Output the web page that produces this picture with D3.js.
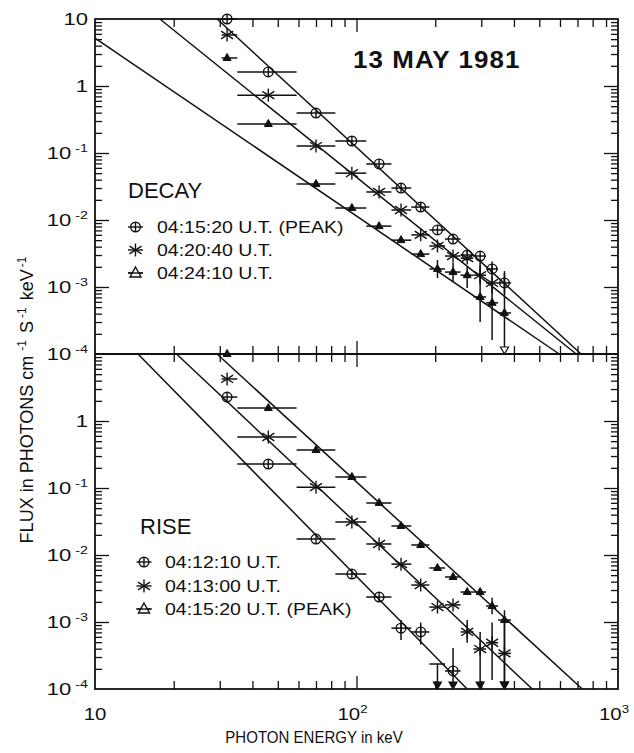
<!DOCTYPE html>
<html>
<head>
<meta charset="utf-8">
<script src="https://cdn.jsdelivr.net/npm/d3@7"></script>
<style>
  body { margin: 0; background: #fff; }
  svg text { font-family: "Liberation Sans", Arial, Helvetica, sans-serif; fill: #111; }
</style>
</head>
<body>
<svg id="chart" width="634" height="753"></svg>
<script>
// energy bins (keV) shared by all spectra
const binLo  = [30.5, 35, 59, 83, 109, 136, 162, 190, 218, 250, 280, 313, 348];
const binMid = [32, 46, 70, 96, 122, 148, 176, 204, 234, 265, 297, 330, 368];
const binHi  = [35, 59, 83, 109, 136, 162, 190, 218, 250, 280, 313, 348, 390];

// DECAY panel
const decayPeak = [
  { bin: 0, flux: 10 }, { bin: 1, flux: 1.62 }, { bin: 2, flux: 0.395 }, { bin: 3, flux: 0.151 },
  { bin: 4, flux: 0.0686 }, { bin: 5, flux: 0.030 }, { bin: 6, flux: 0.0156 }, { bin: 7, flux: 0.0071 },
  { bin: 8, flux: 0.0052 }, { bin: 9, flux: 0.0030 }, { bin: 10, flux: 0.0029 },
  { bin: 11, flux: 0.00186, lo: 0.0015, hi: 0.0024 }, { bin: 12, flux: 0.00115, lo: 0.0008, hi: 0.0016 }
];
const decayMid = [
  { bin: 0, flux: 5.77 }, { bin: 1, flux: 0.73 }, { bin: 2, flux: 0.127 }, { bin: 3, flux: 0.050 },
  { bin: 4, flux: 0.0262 }, { bin: 5, flux: 0.0141 }, { bin: 6, flux: 0.0060 }, { bin: 7, flux: 0.0041 },
  { bin: 8, flux: 0.0029 }, { bin: 9, flux: 0.0027 },
  { bin: 10, flux: 0.0015, lo: 0.0011, hi: 0.0021 }, { bin: 11, flux: 0.00115, lo: 0.0008, hi: 0.0017 }
];
const decayLate = [
  { bin: 0, flux: 2.62 }, { bin: 1, flux: 0.271 }, { bin: 2, flux: 0.0344 }, { bin: 3, flux: 0.0151 },
  { bin: 4, flux: 0.0081 }, { bin: 5, flux: 0.0050 }, { bin: 6, flux: 0.0031 },
  { bin: 7, flux: 0.00186, lo: 0.00136, hi: 0.00253 }, { bin: 8, flux: 0.00167, lo: 0.00118, hi: 0.0023 },
  { bin: 9, flux: 0.0015, lo: 0.00097, hi: 0.0020 }, { bin: 10, flux: 0.00071, lo: 0.0003, hi: 0.00253 },
  { bin: 11, flux: 0.00058, lo: 0.000162, hi: 0.00115 }, { bin: 12, flux: 0.00041, hi: 0.00173, down: true }
];

// RISE panel
const riseEarly = [
  { bin: 0, flux: 2.28 }, { bin: 1, flux: 0.228 }, { bin: 2, flux: 0.0173 }, { bin: 3, flux: 0.0052 },
  { bin: 4, flux: 0.00236 }, { bin: 5, flux: 0.00081, lo: 0.00054, hi: 0.00107 },
  { bin: 6, flux: 0.00071, lo: 0.00046, hi: 0.00098 }, { bin: 7, flux: 0.000236, limit: true },
  { bin: 8, flux: 0.000186, hi: 0.00041, down: true }
];
const riseMid = [
  { bin: 0, flux: 4.24 }, { bin: 1, flux: 0.577 }, { bin: 2, flux: 0.103 }, { bin: 3, flux: 0.0311 },
  { bin: 4, flux: 0.0146 }, { bin: 5, flux: 0.0073 }, { bin: 6, flux: 0.00356 }, { bin: 7, flux: 0.00167 },
  { bin: 8, flux: 0.0018 }, { bin: 9, flux: 0.00071, lo: 0.00049, hi: 0.00107 },
  { bin: 10, flux: 0.000395, hi: 0.00071, down: true }, { bin: 11, flux: 0.00049, lo: 0.000136, hi: 0.00098 },
  { bin: 12, flux: 0.00034, hi: 0.00119, down: true }
];
const riseLate = [
  { bin: 0, flux: 10 }, { bin: 1, flux: 1.56 }, { bin: 2, flux: 0.369 }, { bin: 3, flux: 0.146 },
  { bin: 4, flux: 0.0597 }, { bin: 5, flux: 0.0271 }, { bin: 6, flux: 0.0141 }, { bin: 7, flux: 0.0064 },
  { bin: 8, flux: 0.0047 }, { bin: 9, flux: 0.0028 }, { bin: 10, flux: 0.0028 },
  { bin: 11, flux: 0.00173, lo: 0.0013, hi: 0.0023 }, { bin: 12, flux: 0.00107, hi: 0.0015, down: true }
];

// power-law fits: [energy, flux] end points
const decayFits = [
  [[29.3, 10], [722, 1e-4]],
  [[17.7, 10], [692, 1e-4]],
  [[10, 5.2], [596, 1e-4]]
];
const riseFits = [
  [[14.6, 10], [265, 1e-4]],
  [[20.5, 10], [470, 1e-4]],
  [[29.3, 10], [730, 1e-4]]
];

const decayLabels = ['04:15:20 U.T. (PEAK)', '04:20:40 U.T.', '04:24:10 U.T.'];
const riseLabels = ['04:12:10 U.T.', '04:13:00 U.T.', '04:15:20 U.T. (PEAK)'];
const decayTicks = [10, 1, 1e-1, 1e-2, 1e-3, 1e-4];
const riseTicks = [1, 1e-1, 1e-2, 1e-3, 1e-4];
const energyTicks = [10, 100, 1000];

const svg = d3.select('#chart');
const plotLeft = 95, plotRight = 618, plotTop = 19, plotMid = 354, plotBottom = 689;
const ink = '#111';

const x = d3.scaleLog().domain([10, 1000]).range([plotLeft, plotRight]);
const yDecay = d3.scaleLog().domain([1e-4, 10]).range([plotMid, plotTop]);
const yRise = d3.scaleLog().domain([1e-4, 10]).range([plotBottom, plotMid]);

const isDecade = v => Math.abs(Math.log10(v) - Math.round(Math.log10(v))) < 1e-6;

// axes: inward ticks on every side
function axis(fn, scale, tx, ty, values, size) {
  svg.append('g')
    .attr('transform', `translate(${tx},${ty})`)
    .call(fn(scale).tickValues(values).tickSize(size).tickFormat(''))
    .call(g => g.select('.domain').remove())
    .call(g => g.selectAll('line').attr('stroke', ink).attr('stroke-width', 1.3));
}

const xMinor = x.ticks().filter(v => !isDecade(v));
const xMajor = [100];
axis(d3.axisTop, x, 0, plotTop, xMinor, -8);
axis(d3.axisTop, x, 0, plotTop, xMajor, -13);
axis(d3.axisBottom, x, 0, plotBottom, xMinor, -8);
axis(d3.axisBottom, x, 0, plotBottom, xMajor, -13);
axis(d3.axisTop, x, 0, plotMid, xMinor, 8);
axis(d3.axisBottom, x, 0, plotMid, xMinor, 8);
axis(d3.axisTop, x, 0, plotMid, xMajor, 13);
axis(d3.axisBottom, x, 0, plotMid, xMajor, 13);

[yDecay, yRise].forEach(y => {
  const minor = y.ticks().filter(v => !isDecade(v));
  const major = y.ticks().filter(v => isDecade(v) && v > 1e-4 && v < 10);
  axis(d3.axisLeft, y, plotLeft, 0, minor, -7);
  axis(d3.axisLeft, y, plotLeft, 0, major, -14);
  axis(d3.axisRight, y, plotRight, 0, minor, -7);
  axis(d3.axisRight, y, plotRight, 0, major, -14);
});

// frame
svg.append('rect')
  .attr('x', plotLeft).attr('y', plotTop)
  .attr('width', plotRight - plotLeft).attr('height', plotBottom - plotTop)
  .attr('fill', 'none').attr('stroke', ink).attr('stroke-width', 1.8);
svg.append('line')
  .attr('x1', plotLeft).attr('x2', plotRight).attr('y1', plotMid).attr('y2', plotMid)
  .attr('stroke', ink).attr('stroke-width', 1.8);

// tick labels
function powerLabel(sel, v, supDx, supDy) {
  const e = Math.round(Math.log10(v));
  if (e === 0) { sel.text('1'); return; }
  sel.append('tspan').text('10');
  if (e !== 1) {
    sel.append('tspan').attr('dx', supDx).attr('dy', supDy).attr('font-size', 11)
      .text(e < 0 ? '-' + (-e) : String(e));
  }
}

[[yDecay, decayTicks], [yRise, riseTicks]].forEach(([y, ticks]) => {
  ticks.forEach(v => {
    svg.append('text')
      .attr('transform', `translate(88,${y(v) + 6}) scale(1.3,1)`)
      .attr('text-anchor', 'end')
      .attr('font-size', 17)
      .call(powerLabel, v, 3, -7);
  });
});

energyTicks.forEach(v => {
  svg.append('text')
    .attr('transform', `translate(${x(v) - (v > 10 ? 4 : 0)},720) scale(1.2,1)`)
    .attr('text-anchor', 'middle')
    .attr('font-size', 17)
    .call(powerLabel, v, 0, -7);
});

// axis titles
svg.append('text')
  .attr('transform', 'translate(314,743) scale(0.94,1)')
  .attr('text-anchor', 'middle')
  .attr('font-size', 16)
  .text('PHOTON ENERGY in keV');

const yTitle = svg.append('text')
  .attr('transform', 'translate(33,400) rotate(-90)')
  .attr('text-anchor', 'middle')
  .attr('font-size', 18);
yTitle.append('tspan').text('FLUX in PHOTONS cm');
yTitle.append('tspan').attr('dx', 5).attr('dy', -7).attr('font-size', 12).text('-1');
yTitle.append('tspan').attr('dx', 7).attr('dy', 7).text('S');
yTitle.append('tspan').attr('dx', 3).attr('dy', -7).attr('font-size', 12).text('-1');
yTitle.append('tspan').attr('dx', 7).attr('dy', 7).text('keV');
yTitle.append('tspan').attr('dx', 2).attr('dy', -7).attr('font-size', 12).text('-1');

svg.append('text')
  .attr('transform', 'translate(353,68) scale(1.08,1)')
  .attr('font-size', 24).attr('font-weight', 'bold').attr('letter-spacing', 1)
  .text('13 MAY 1981');

// markers
function marker(g, shape, cx, cy, legend) {
  const s = g.append('g').attr('transform', `translate(${cx},${cy})`)
    .attr('stroke', ink).attr('stroke-width', 1.4).attr('fill', 'none');
  if (legend) s.append('line').attr('x1', -7.5).attr('x2', 7.5);
  if (shape === 'circle') {
    s.append('circle').attr('r', 4.8);
    s.append('line').attr('y1', -4.8).attr('y2', 4.8);
  } else if (shape === 'star') {
    s.append('line').attr('y1', -6.5).attr('y2', 6.5);
    s.append('line').attr('x1', -6).attr('y1', -3.8).attr('x2', 6).attr('y2', 3.8);
    s.append('line').attr('x1', -6).attr('y1', 3.8).attr('x2', 6).attr('y2', -3.8);
  } else if (legend) {
    s.append('path').attr('d', 'M0,-6L5.5,4L-5.5,4Z').attr('fill', '#fff');
    s.append('line').attr('x1', -7.5).attr('x2', 7.5);
  } else {
    s.append('path').attr('d', 'M0,-4.5L4,2.5L-4,2.5Z').attr('fill', ink).attr('stroke-width', 1);
  }
}

function arrowHead(g, cx, yBase, open) {
  g.append('path')
    .attr('d', `M${cx - 4},${yBase - 7}L${cx + 4},${yBase - 7}L${cx},${yBase}Z`)
    .attr('fill', open ? '#fff' : ink).attr('stroke', ink).attr('stroke-width', 1.2);
}

function drawPanel(y, series, shapes, fits, openArrows) {
  const g = svg.append('g');
  const base = y.range()[0];
  const line = d3.line().x(d => x(d[0])).y(d => y(d[1]));
  fits.forEach(f => {
    g.append('path').attr('d', line(f))
      .attr('fill', 'none').attr('stroke', ink).attr('stroke-width', 1.5);
  });
  series.forEach((data, i) => {
    data.forEach(d => {
      const cx = x(binMid[d.bin]);
      const cy = y(d.flux);
      g.append('line')
        .attr('x1', x(binLo[d.bin])).attr('x2', x(binHi[d.bin]))
        .attr('y1', cy).attr('y2', cy)
        .attr('stroke', ink).attr('stroke-width', 1.5);
      if (d.hi || d.limit) {
        const yEnd = d.down || d.limit ? base - 2 : y(d.lo);
        g.append('line')
          .attr('x1', cx).attr('x2', cx)
          .attr('y1', d.limit ? cy : y(d.hi)).attr('y2', yEnd)
          .attr('stroke', ink).attr('stroke-width', 1.5);
        if (d.down || d.limit) arrowHead(g, cx, base, openArrows);
      }
      if (!d.limit) marker(g, shapes[i], cx, cy, false);
    });
  });
}

drawPanel(yDecay, [decayPeak, decayMid, decayLate], ['circle', 'star', 'triangle'], decayFits, true);
drawPanel(yRise, [riseEarly, riseMid, riseLate], ['circle', 'star', 'triangle'], riseFits, false);

// legends
function legend(title, tx, ty, labels, symX, textX, rows) {
  svg.append('text').attr('x', tx).attr('y', ty).attr('font-size', 22).text(title);
  labels.forEach((t, i) => {
    marker(svg, ['circle', 'star', 'triangle'][i], symX, rows[i] - 6, true);
    svg.append('text')
      .attr('transform', `translate(${textX},${rows[i]}) scale(1.22,1)`)
      .attr('font-size', 16)
      .text(t);
  });
}
legend('DECAY', 128, 198, decayLabels, 135.5, 157, [233, 256, 279]);
legend('RISE', 140, 534, riseLabels, 144, 165, [568, 592, 615]);
</script>
</body>
</html>
